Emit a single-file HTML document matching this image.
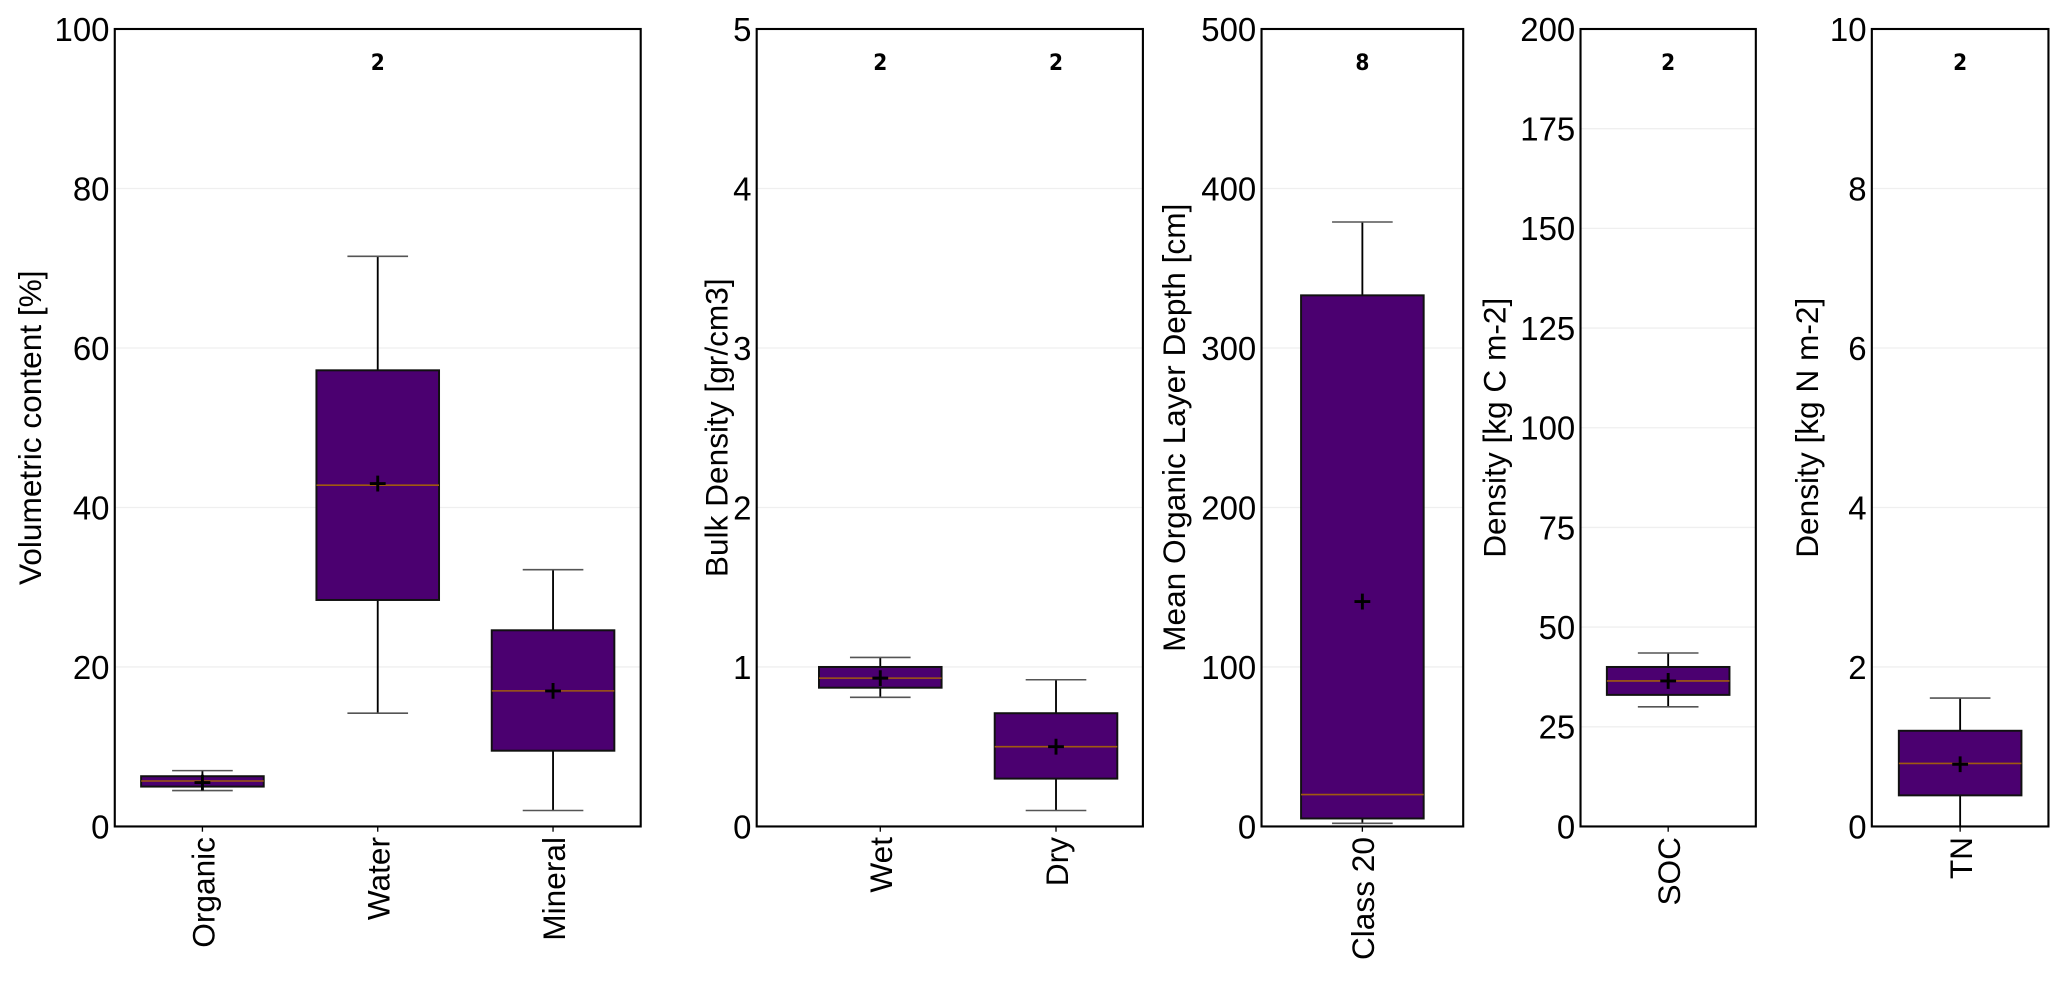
<!DOCTYPE html>
<html><head><meta charset="utf-8"><style>
html,body{margin:0;padding:0;background:#fff;}
svg{display:block;font-family:"Liberation Sans",Arial,sans-serif;}
</style></head><body>
<svg id="chart" width="2067" height="982" viewBox="0 0 1568 745" xmlns="http://www.w3.org/2000/svg"></svg>
<script>
// Panel 1
const p1Cats = ["Organic","Water","Mineral"];
const p1WLo = [4.5,14.2,2];
const p1Q1 = [5,28.4,9.5];
const p1Med = [5.7,42.8,17];
const p1Q3 = [6.3,57.2,24.6];
const p1WHi = [7,71.5,32.2];
const p1Mean = [5.5,43,17];
const p1Ticks = [0,20,40,60,80,100];
// Panel 2
const p2Cats = ["Wet","Dry"];
const p2WLo = [0.81,0.1];
const p2Q1 = [0.87,0.3];
const p2Med = [0.93,0.5];
const p2Q3 = [1.0,0.71];
const p2WHi = [1.06,0.92];
const p2Mean = [0.93,0.5];
const p2Ticks = [0,1,2,3,4,5];
// Panel 3
const p3Cats = ["Class 20"];
const p3WLo = [2];
const p3Q1 = [5];
const p3Med = [20];
const p3Q3 = [333];
const p3WHi = [379];
const p3Mean = [141];
const p3Ticks = [0,100,200,300,400,500];
// Panel 4
const p4Cats = ["SOC"];
const p4WLo = [30];
const p4Q1 = [33];
const p4Med = [36.5];
const p4Q3 = [40];
const p4WHi = [43.5];
const p4Mean = [36.5];
const p4Ticks = [0,25,50,75,100,125,150,175,200];
// Panel 5
const p5Cats = ["TN"];
const p5WLo = [0];
const p5Q1 = [0.39];
const p5Med = [0.79];
const p5Q3 = [1.2];
const p5WHi = [1.61];
const p5Mean = [0.78];
const p5Ticks = [0,2,4,6,8,10];
const counts = [["","2",""],["2","2"],["8"],["2"],["2"]];

const NS="http://www.w3.org/2000/svg";
const svg=document.getElementById('chart');
function mk(tag,attrs,parent){const e=document.createElementNS(NS,tag);for(const k in attrs)e.setAttribute(k,attrs[k]);(parent||svg).appendChild(e);return e;}

// layout: frame edges and category centre fractions (layout, not data)
const panels=[
 {x0:87,x1:486,fr:[1/6,0.5,5/6],max:100,cats:p1Cats,lo:p1WLo,q1:p1Q1,med:p1Med,q3:p1Q3,hi:p1WHi,mean:p1Mean,ticks:p1Ticks,label:"Volumetric content [%]",lx:22,name:"volumetric"},
 {x0:574,x1:867,fr:[0.320,0.775],max:5,cats:p2Cats,lo:p2WLo,q1:p2Q1,med:p2Med,q3:p2Q3,hi:p2WHi,mean:p2Mean,ticks:p2Ticks,label:"Bulk Density [gr/cm3]",lx:543,name:"bulk-density"},
 {x0:957,x1:1110,fr:[0.5],max:500,cats:p3Cats,lo:p3WLo,q1:p3Q1,med:p3Med,q3:p3Q3,hi:p3WHi,mean:p3Mean,ticks:p3Ticks,label:"Mean Organic Layer Depth [cm]",lx:890,name:"layer-depth"},
 {x0:1199,x1:1332,fr:[0.5],max:200,cats:p4Cats,lo:p4WLo,q1:p4Q1,med:p4Med,q3:p4Q3,hi:p4WHi,mean:p4Mean,ticks:p4Ticks,label:"Density [kg C m-2]",lx:1133,name:"soc-density"},
 {x0:1420,x1:1554,fr:[0.5],max:10,cats:p5Cats,lo:p5WLo,q1:p5Q1,med:p5Med,q3:p5Q3,hi:p5WHi,mean:p5Mean,ticks:p5Ticks,label:"Density [kg N m-2]",lx:1370,name:"tn-density"}
];
const Y0=627,Y1=22,BW=93;
panels.forEach((p,pi)=>{
 const g=mk('g',{});
 
 
 const y=v=>Y0-(v/p.max)*(Y0-Y1);
 const xc=i=>p.x0+(p.x1-p.x0)*p.fr[i];
 p.ticks.forEach(t=>{
  if(t>0&&t<p.max){const gl=mk('line',{x1:p.x0,x2:p.x1,y1:y(t),y2:y(t),stroke:'#efefef','stroke-width':1},g);
   }
  const tl=mk('text',{x:p.x0-4,y:y(t)+9,'text-anchor':'end','font-size':25},g);tl.textContent=t;
  
 });
 const yl=mk('text',{x:0,y:0,'text-anchor':'middle','font-size':24,transform:`translate(${p.lx+9},${(Y0+Y1)/2}) rotate(-90)`},g);
 yl.textContent=p.label;
 
 p.cats.forEach((c,i)=>{
  const cx=xc(i),hw=BW/2,cap=23;
  const bg=mk('g',{},g);
  
  
  mk('line',{x1:cx,x2:cx,y1:y(p.lo[i]),y2:y(p.q1[i]),stroke:'#000','stroke-width':1.4},bg);
  mk('line',{x1:cx,x2:cx,y1:y(p.q3[i]),y2:y(p.hi[i]),stroke:'#000','stroke-width':1.4},bg);
  mk('line',{x1:cx-cap,x2:cx+cap,y1:y(p.lo[i]),y2:y(p.lo[i]),stroke:'#555','stroke-width':1.2},bg);
  mk('line',{x1:cx-cap,x2:cx+cap,y1:y(p.hi[i]),y2:y(p.hi[i]),stroke:'#555','stroke-width':1.2},bg);
  mk('rect',{x:cx-hw,y:y(p.q3[i]),width:BW,height:y(p.q1[i])-y(p.q3[i]),fill:'#4b0070',stroke:'#111','stroke-width':1.5},bg);
  mk('line',{x1:cx-hw,x2:cx+hw,y1:y(p.med[i]),y2:y(p.med[i]),stroke:'#a05a10','stroke-width':1.2},bg);
  const my=y(p.mean[i]);
  mk('path',{d:`M${cx-6},${my}H${cx+6}M${cx},${my-6}V${my+6}`,stroke:'#000','stroke-width':2.2},bg);
  mk('line',{x1:cx,x2:cx,y1:Y0,y2:Y0+4,stroke:'#000','stroke-width':1},g);
  const xl=mk('text',{x:0,y:0,'text-anchor':'end','font-size':24,transform:`translate(${cx+9},${Y0+8}) rotate(-90)`},g);
  xl.textContent=c;
  
  if(counts[pi][i]){const ct=mk('text',{x:cx,y:53,'text-anchor':'middle','font-size':17,'font-weight':'bold','font-family':'"DejaVu Sans Condensed","DejaVu Sans",sans-serif'},g);ct.textContent=counts[pi][i];
   }
 });
 const fr=mk('rect',{x:p.x0,y:Y1,width:p.x1-p.x0,height:Y0-Y1,fill:'none',stroke:'#000','stroke-width':1.6},g);
 
});
</script>
</body></html>
